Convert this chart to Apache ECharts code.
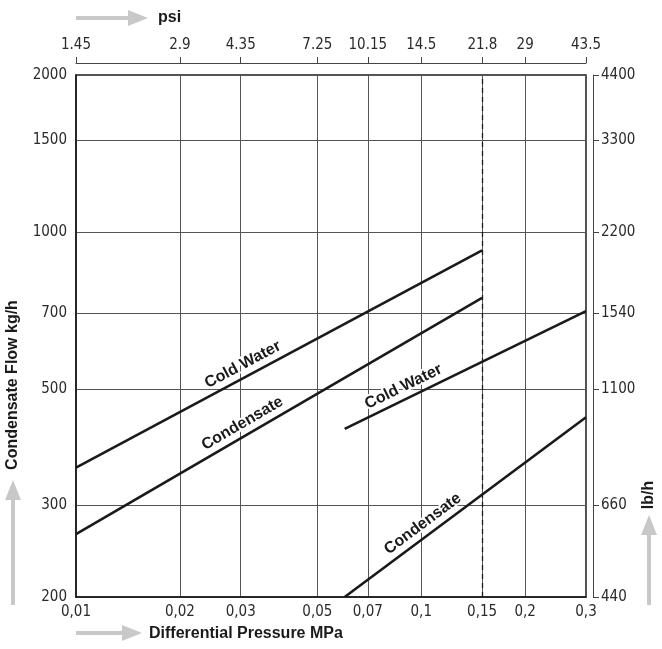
<!DOCTYPE html>
<html><head><meta charset="utf-8">
<script src="https://cdn.jsdelivr.net/npm/echarts@6/dist/echarts.min.js"></script>
<style>html,body{margin:0;padding:0;background:#fff}#c{width:662px;height:649px}</style>
</head><body><div id="c"></div>
<script>
// ---- data ----
const mpaTicks = [0.01, 0.02, 0.03, 0.05, 0.07, 0.1, 0.15, 0.2, 0.3];
const psiTicks = [1.45, 2.9, 4.35, 7.25, 10.15, 14.5, 21.8, 29, 43.5];
const kghTicks = [200, 300, 500, 700, 1000, 1500, 2000];
const lbhTicks = [440, 660, 1100, 1540, 2200, 3300, 4400];
const coldWaterA = [[0.01, 354], [0.15, 923]];
const condensateA = [[0.01, 264], [0.15, 748]];
const coldWaterB = [[0.06, 420], [0.3, 706]];
const condensateB = [[0.06, 200], [0.3, 442]];
const limitPressure = 0.15;
const lineNames = ['Cold Water', 'Condensate', 'Cold Water', 'Condensate'];
const labelAtX = [0.0316, 0.0316, 0.092, 0.106];

const NARROW = "'DejaVu Sans Condensed','Liberation Sans Narrow',sans-serif";
const INK = '#1a1a1a';
const GRID = '#555';
const ARROW = '#c8c8c8';

const chart = echarts.init(document.getElementById('c'), null, {renderer: 'canvas'});
const lines = [coldWaterA, condensateA, coldWaterB, condensateB];
const commaFmt = v => String(v).replace('.', ',');
const plainFmt = v => String(v);
const tickLabel = {fontFamily: NARROW, fontSize: 15, color: '#2a2a2a'};

const option = {
  animation: false,
  backgroundColor: '#fff',
  grid: {left: 76, top: 75, width: 510, height: 522, show: true, borderColor: INK, borderWidth: 1.5},
  xAxis: [
    {type: 'log', logBase: 10, min: 0.01, max: 0.3, position: 'bottom',
     axisLine: {show: true, lineStyle: {color: INK, width: 1.5}},
     axisTick: {show: false, customValues: mpaTicks},
     axisLabel: Object.assign({customValues: mpaTicks, formatter: commaFmt, margin: 8}, tickLabel),
     splitLine: {show: true, lineStyle: {color: GRID, width: 1}}},
    {type: 'log', logBase: 10, min: 1.45, max: 43.5, position: 'top', offset: 12,
     axisLine: {show: true, lineStyle: {color: '#444', width: 1}},
     axisTick: {show: true, customValues: psiTicks, length: 6, lineStyle: {color: '#444', width: 1}},
     axisLabel: Object.assign({customValues: psiTicks, formatter: plainFmt, margin: 10}, tickLabel),
     splitLine: {show: false}}
  ],
  yAxis: [
    {type: 'log', logBase: 10, min: 200, max: 2000, position: 'left',
     axisLine: {show: true, lineStyle: {color: INK, width: 1.5}},
     axisTick: {show: false, customValues: kghTicks},
     axisLabel: Object.assign({customValues: kghTicks, formatter: plainFmt, margin: 9}, tickLabel),
     splitLine: {show: true, lineStyle: {color: GRID, width: 1}}},
    {type: 'log', logBase: 10, min: 440, max: 4400, position: 'right', offset: 7,
     axisLine: {show: true, lineStyle: {color: '#444', width: 1}},
     axisTick: {show: true, customValues: lbhTicks, length: 6, lineStyle: {color: '#444', width: 1}},
     axisLabel: Object.assign({customValues: lbhTicks, formatter: plainFmt, margin: 8}, tickLabel),
     splitLine: {show: false}}
  ],
  series: lines.map((d, i) => ({
    type: 'line', xAxisIndex: 0, yAxisIndex: 0, data: d, symbol: 'none', silent: true,
    lineStyle: {color: INK, width: 2.6}, z: 5,
    markLine: i === 0 ? {symbol: 'none', silent: true, label: {show: false},
      lineStyle: {color: INK, width: 1.3, type: [5, 4]}, data: [{xAxis: limitPressure}]} : undefined
  }))
};
chart.setOption(option);

// ---- labels along the lines & titles ----
function px(p) { return chart.convertToPixel({xAxisIndex: 0, yAxisIndex: 0}, p); }
const L = Math.log10;
const graphics = [];
lines.forEach((d, i) => {
  const a = px(d[0]), b = px(d[1]);
  const ang = Math.atan2(a[1] - b[1], b[0] - a[0]);
  const x = labelAtX[i];
  const t = (L(x) - L(d[0][0])) / (L(d[1][0]) - L(d[0][0]));
  const y = Math.pow(10, L(d[0][1]) + t * (L(d[1][1]) - L(d[0][1])));
  const p = px([x, y]);
  const off = 12;
  graphics.push({type: 'text', x: p[0] - Math.sin(ang) * off, y: p[1] - Math.cos(ang) * off,
    rotation: ang, z: 100,
    style: {text: lineNames[i], font: "bold 16px 'Liberation Sans', Arial, sans-serif",
      textAlign: 'center', textVerticalAlign: 'middle', fill: INK, stroke: '#fff', lineWidth: 4}});
});
function hArrow(x, y, len) {
  return [
    {type: 'rect', shape: {x: x, y: y - 2, width: len - 18, height: 4}, style: {fill: ARROW}},
    {type: 'polygon', shape: {points: [[x + len - 20, y - 8], [x + len, y], [x + len - 20, y + 8]]}, style: {fill: ARROW}}
  ];
}
function vArrow(x, y, len) {
  return [
    {type: 'rect', shape: {x: x - 2, y: y - len + 18, width: 4, height: len - 18}, style: {fill: ARROW}},
    {type: 'polygon', shape: {points: [[x - 8, y - len + 20], [x, y - len], [x + 8, y - len + 20]]}, style: {fill: ARROW}}
  ];
}
const titleFont = "bold 16px 'Liberation Sans', Arial, sans-serif";
graphics.push(...hArrow(76, 18, 72));
graphics.push({type: 'text', x: 158, y: 18, style: {text: 'psi', font: titleFont, fill: INK, textVerticalAlign: 'middle'}});
graphics.push(...hArrow(76, 633, 66));
graphics.push({type: 'text', x: 149, y: 634, style: {text: 'Differential Pressure MPa', font: titleFont, fill: INK, textVerticalAlign: 'middle'}});
graphics.push(...vArrow(13, 605, 125));
graphics.push({type: 'text', x: 13, y: 385, rotation: Math.PI / 2, style: {text: 'Condensate Flow kg/h', font: titleFont, fill: INK, textAlign: 'center', textVerticalAlign: 'middle'}});
graphics.push(...vArrow(649, 605, 90));
graphics.push({type: 'text', x: 649, y: 495, rotation: Math.PI / 2, style: {text: 'lb/h', font: titleFont, fill: INK, textAlign: 'center', textVerticalAlign: 'middle'}});
chart.setOption({graphic: graphics});
</script></body></html>
